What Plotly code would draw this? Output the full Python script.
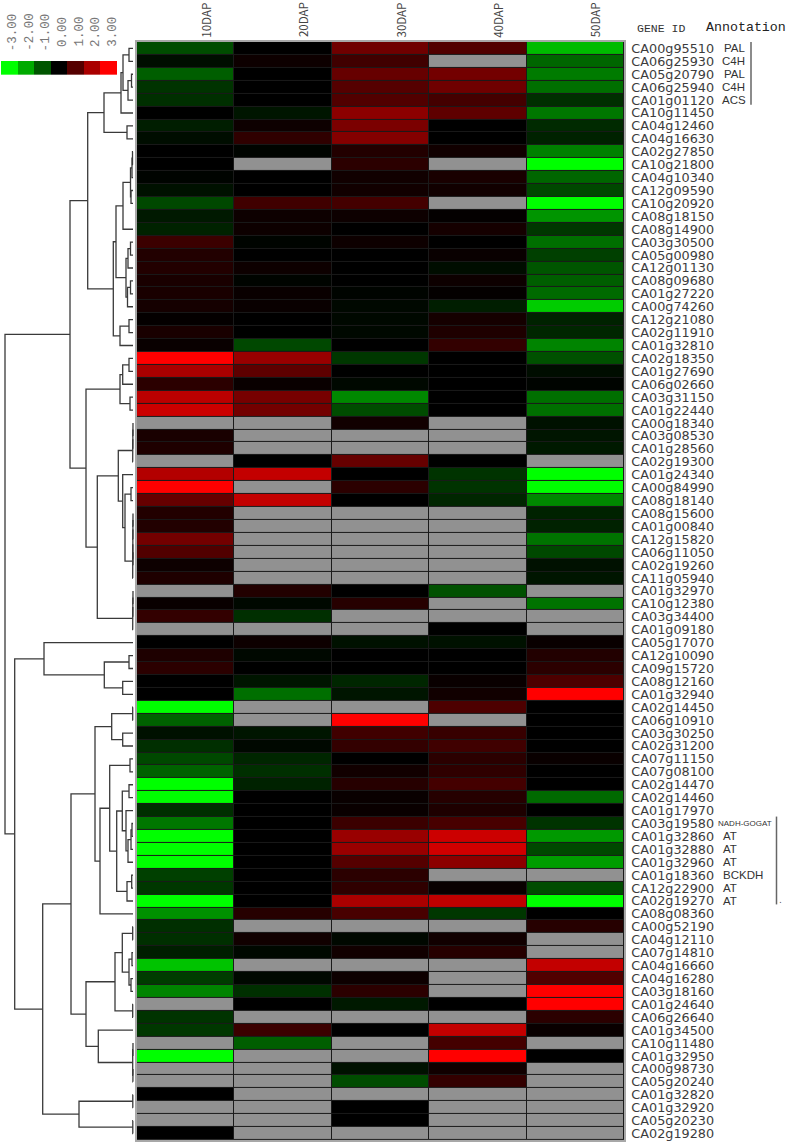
import plotly.graph_objects as go

N = None
days = ["10DAP", "20DAP", "30DAP", "40DAP", "50DAP"]
genes = """CA00g95510 CA06g25930 CA05g20790 CA06g25940 CA01g01120 CA10g11450 CA04g12460 CA04g16630 CA02g27850 CA10g21800
CA04g10340 CA12g09590 CA10g20920 CA08g18150 CA08g14900 CA03g30500 CA05g00980 CA12g01130 CA08g09680 CA01g27220
CA00g74260 CA12g21080 CA02g11910 CA01g32810 CA02g18350 CA01g27690 CA06g02660 CA03g31150 CA01g22440 CA00g18340
CA03g08530 CA01g28560 CA02g19300 CA01g24340 CA00g84990 CA08g18140 CA08g15600 CA01g00840 CA12g15820 CA06g11050
CA02g19260 CA11g05940 CA01g32970 CA10g12380 CA03g34400 CA01g09180 CA05g17070 CA12g10090 CA09g15720 CA08g12160
CA01g32940 CA02g14450 CA06g10910 CA03g30250 CA02g31200 CA07g11150 CA07g08100 CA02g14470 CA02g14460 CA01g17970
CA03g19580 CA01g32860 CA01g32880 CA01g32960 CA01g18360 CA12g22900 CA02g19270 CA08g08360 CA00g52190 CA04g12110
CA07g14810 CA04g16660 CA04g16280 CA03g18160 CA01g24640 CA06g26640 CA01g34500 CA10g11480 CA01g32950 CA00g98730
CA05g20240 CA01g32820 CA01g32920 CA05g20230 CA02g19280""".split()

expression = [
    [-0.9, 0, 1.3, 0.95, -2.2], [-0.15, 0.15, 0.75, N, -1.2], [-1.1, 0, 1.2, 1.35, -1.45],
    [-0.6, 0, 1.0, 1.3, -1.3], [-0.55, 0, 0.95, 0.8, -0.55], [0, -0.25, 1.65, 1.1, -1.4],
    [-0.35, 0.15, 1.45, 0, -0.5], [-0.15, 0.55, 1.55, 0, -0.4], [0, -0.05, 0.4, 0.2, -1.5],
    [0, N, 0.5, N, -3], [-0.05, 0, 0.2, 0.3, -1.2], [-0.2, 0, 0.2, 0.2, -0.85],
    [-0.85, 0.75, 0.8, N, -3], [-0.3, 0.15, 0.15, 0.05, -1.75], [-0.4, 0.15, 0, 0.25, -0.65],
    [0.7, -0.05, 0.15, 0, -1.3], [0.4, 0, 0, 0.1, -0.75], [0.4, 0.15, 0, -0.15, -1.0],
    [0.3, -0.05, 0, 0.15, -1.1], [0.3, 0.1, -0.05, 0.05, -1.25], [0.25, 0.1, -0.1, -0.35, -2.4],
    [0.05, 0, -0.1, 0.25, -0.4], [0.3, 0, -0.1, 0.35, -0.45], [0.1, -0.85, 0, 0.6, -1.55],
    [3, 1.8, -0.65, 0, -0.95], [2.0, 1.1, 0, 0, -0.15], [0.5, 0.1, -0.1, 0, -0.05],
    [2.2, 1.4, -1.6, 0, -1.3], [2.4, 1.35, -0.9, 0, -1.3], [N, N, 0.2, N, -0.2],
    [0.3, N, N, N, -0.25], [0.35, N, N, N, -0.3], [N, 0, 1.2, 0, N],
    [2.1, 2.3, 0, -0.6, -3], [3, N, 0.5, -0.6, -3], [1.2, 2.3, 0, -0.45, -1.6],
    [0.4, N, N, N, -0.4], [0.4, N, N, N, -0.4], [1.35, N, N, N, -1.35],
    [0.95, N, N, N, -0.85], [0.15, N, N, N, -0.2], [0.35, N, N, N, -0.25],
    [N, 0.4, 0, -0.95, N], [0.1, -0.1, 0.45, N, -1.35], [0.6, -0.55, N, N, N],
    [N, N, N, 0, N], [0, 0.15, -0.2, -0.2, 0.1], [0.35, -0.1, 0, 0, 0.4],
    [0.5, 0, 0, 0, 0.5], [0, -0.25, -0.45, 0.1, 0.9], [0, -1.3, -0.25, 0.2, 3],
    [-3, N, N, 0.9, 0], [-1.15, N, 3, N, 0], [-0.2, -0.25, 0.75, 0.65, 0],
    [-0.55, -0.1, 0.6, 0.75, 0], [-0.85, -0.45, 0, 0.5, 0.1], [-1.15, -0.55, 0.2, 0.55, 0],
    [-3, -0.4, 0.45, 0.8, 0], [-3, 0, 0.1, 0.45, -1.25], [-0.55, 0, 0.1, 0.35, 0],
    [-1.4, 0, 0.7, 0.85, -0.6], [-3, 0, 1.8, 2.4, -1.8], [-3, 0, 1.8, 2.45, -0.85],
    [-3, 0, 1.0, 1.65, -1.85], [-0.75, 0, 0.5, N, N], [-0.65, 0, 0.55, 0.1, -0.9],
    [-3, 0, 2.0, 2.25, -3], [-1.7, 0.45, 0.85, -0.65, 0], [-0.55, N, N, N, 0.45],
    [-0.55, 0.2, -0.1, 0.2, N], [-0.35, -0.1, 0.2, 0.45, N], [-2.3, N, N, N, 2.3],
    [-0.7, -0.1, 0.15, N, 0.95], [-1.55, -0.55, 0.5, N, 3], [N, 0, -0.3, 0, 3],
    [-0.6, N, N, N, 0.5], [-0.65, 0.7, 0, 2.3, 0.1], [N, -1.1, N, 0.8, N],
    [-3, N, N, 3, 0], [N, N, -0.2, 0.2, N], [N, N, -0.9, 0.6, N],
    [0, N, N, N, N], [N, N, 0, N, N], [N, N, 0, N, N], [0, N, N, N, N],
]

legend_values = [-3, -2, -1, 0, 1, 2, 3]
annotations_by_gene = [
    ("CA00g95510", "PAL"), ("CA06g25930", "C4H"), ("CA05g20790", "PAL"), ("CA06g25940", "C4H"),
    ("CA01g01120", "ACS"), ("CA03g19580", "NADH-GOGAT"), ("CA01g32860", "AT"), ("CA01g32880", "AT"),
    ("CA01g32960", "AT"), ("CA01g18360", "BCKDH"), ("CA12g22900", "AT"), ("CA02g19270", "AT"),
]


def m(height, a, b):
    return (height, a, b)


# Dendrogram: merges of rows (1-based) with their distance
upper_a = m(29, m(12, m(10, m(4, 1, 2), m(5, m(1.5, 3, 4), 5)), 6), m(6, 7, 8))
upper_b = m(19.7,
            m(17, m(10, m(2.5, m(1, m(0.5, 9, 10), 11), m(2, 12, 13)), 15),
              m(7, m(5, m(2.5, 16, 17), 18), m(5.5, m(2.5, 19, 20), 21))),
            m(13, m(4, 22, 23), 24))
upper_c1 = m(13, m(10.3, m(4, 25, 26), 27), m(3, 28, 29))
flat_30 = m(0.3, m(0.2, m(0.1, 30, 31), 32), 33)
flat_37 = m(0.3, m(0.2, m(0.1, m(0.05, 37, 38), 39), m(0.05, 40, 41)), 42)
upper_c2 = m(35.7,
             m(14.7, flat_30, m(10.3, 34, m(8, m(2, 35, 36), flat_37))),
             m(0.3, m(0.2, m(0.1, 43, 44), 45), 46))
upper = m(63, m(45.3, upper_a, upper_b), m(47, upper_c1, upper_c2))

lower_d1 = m(89, 47, m(28.7, m(4, 48, 49), m(10.3, 50, 51)))
lower_f = m(38,
            m(21.3, m(0.3, 52, 53), m(10.3, 54, 55)),
            m(33, m(23.3, m(3, 56, 57),
                    m(16.3, m(10.7, m(4, 58, 59),
                              m(7, 60, m(5, m(2, m(1, 61, 62), 63), 64))),
                      m(6, m(1.3, 65, 66), 67))),
              68))
lower_g = m(47,
            m(18, m(10.7, m(0.3, 69, 70), m(4, m(1, 71, 72), m(2, 73, 74))), m(0.3, 75, 76)),
            m(34.7, 77, m(0.3, m(0.1, 78, 79), m(0.1, 80, 81))))
lower = m(118.3, m(90.3, m(62, lower_f, lower_g), m(54, m(0.2, 82, 83), m(0.2, 84, 85))), lower_d1)
root = m(128, upper, lower)

W, H = 787, 1144
HEAT_L, HEAT_R, HEAT_T, HEAT_B = 137, 624, 41, 1141
rows = list(range(1, len(genes) + 1))
cols = list(range(len(days)))

scale = [[(v + 3) / 6, c] for v, c in [(-3, "#00ff00"), (0, "#000000"), (3, "#ff0000")]]
missing_mask = [[1 if v is None else None for v in row] for row in expression]
base = [[1 for _ in row] for row in expression]


def px(x):
    return x / W


def py(y):
    return 1 - y / H


xs, ys = [], []


def draw(node):
    if isinstance(node, int):
        return 0, node
    d, a, b = node
    da, ya = draw(a)
    db, yb = draw(b)
    xs.extend([da, d, d, db, None])
    ys.extend([ya, ya, yb, yb, None])
    return d, (ya + yb) / 2


root_d, root_y = draw(root)

fig = go.Figure()
fig.add_trace(go.Heatmap(x=cols, y=rows, z=base, colorscale=[[0, "#1a1a1a"], [1, "#1a1a1a"]],
                         showscale=False, hoverinfo="skip"))
fig.add_trace(go.Heatmap(x=cols, y=rows, z=missing_mask, colorscale=[[0, "#919191"], [1, "#919191"]],
                         showscale=False, xgap=1, ygap=1, hoverinfo="skip"))
fig.add_trace(go.Heatmap(x=cols, y=rows, z=expression, zmin=-3, zmax=3, colorscale=scale,
                         showscale=False, xgap=1, ygap=1))
fig.add_trace(go.Scatter(x=xs, y=ys, xaxis="x2", yaxis="y", mode="lines",
                         line=dict(color="#3a3a3a", width=1.3), hoverinfo="skip", showlegend=False))
fig.add_trace(go.Heatmap(x=legend_values, y=[0], z=[legend_values], zmin=-3, zmax=3, colorscale=scale,
                         showscale=False, xaxis="x3", yaxis="y3"))

axis_line = dict(showline=True, linecolor="#a8a8a8", linewidth=1.5, mirror=True)
gene_font = dict(family="DejaVu Sans", size=12.8, color="#3c3c3c")

annotations = []
for i, day in zip(cols, days):
    annotations.append(dict(x=i, y=py(19), xref="x", yref="paper", text=day, textangle=-90, showarrow=False,
                            xanchor="center", yanchor="middle", xshift=20,
                            font=dict(family="Noto Sans CJK SC", size=11.5, color="#444444")))
for v in legend_values:
    annotations.append(dict(x=v, y=py(31), xref="x3", yref="paper", text=f"{v:.2f}", textangle=-90,
                            showarrow=False, xanchor="center", yanchor="middle", xshift=4,
                            font=dict(family="Liberation Mono", size=12.5, color="#777777")))
annotations.append(dict(x=px(635), y=py(28), xref="paper", yref="paper", text="GENE ID", xanchor="left",
                        yanchor="middle", showarrow=False,
                        font=dict(family="Liberation Mono", size=11.5, color="#333333")))
annotations.append(dict(x=px(704), y=py(27), xref="paper", yref="paper", text="Annotation", xanchor="left",
                        yanchor="middle", showarrow=False,
                        font=dict(family="Liberation Mono", size=13.3, color="#222222")))
for gene, label in annotations_by_gene:
    small = label == "NADH-GOGAT"
    left = {"PAL": 722, "C4H": 720, "ACS": 720, "NADH-GOGAT": 716, "AT": 721, "BCKDH": 721}[label]
    annotations.append(dict(x=px(left), y=rows[genes.index(gene)], xref="paper", yref="y", text=label,
                            xanchor="left", yanchor="middle", showarrow=False,
                            font=dict(family="Liberation Sans", size=8 if small else 11.5, color="#333333")))
annotations.append(dict(x=px(777), y=py(901), xref="paper", yref="paper", text=".", xanchor="left",
                        yanchor="middle", showarrow=False,
                        font=dict(family="DejaVu Sans", size=9, color="#555555")))

shapes = [
    dict(type="line", xref="paper", yref="paper", x0=px(751), x1=px(751), y0=py(41), y1=py(104),
         line=dict(color="#666666", width=1.5)),
    dict(type="line", xref="paper", yref="paper", x0=px(776.5), x1=px(776.5), y0=py(817), y1=py(905),
         line=dict(color="#666666", width=1.5)),
]

fig.update_layout(
    width=W, height=H, margin=dict(l=0, r=0, t=0, b=0), paper_bgcolor="white", plot_bgcolor="white",
    showlegend=False, annotations=annotations, shapes=shapes,
    xaxis=dict(domain=[px(HEAT_L), px(HEAT_R)], range=[-0.5, 4.5], showticklabels=False, ticks="",
               showgrid=False, zeroline=False, **axis_line),
    yaxis=dict(domain=[py(HEAT_B), py(HEAT_T)], range=[85.5, 0.5], side="right", tickmode="array", tickvals=rows,
               ticktext=genes, tickfont=gene_font, ticks="outside", ticklen=3, tickcolor="rgba(0,0,0,0)",
               showgrid=False, zeroline=False, **axis_line),
    xaxis2=dict(domain=[0, px(HEAT_L)], range=[133, -4], visible=False, anchor="y", showgrid=False),
    xaxis3=dict(domain=[px(1), px(117)], range=[-3.5, 3.5], visible=False, anchor="y3"),
    yaxis3=dict(domain=[py(74), py(60)], range=[-0.5, 0.5], visible=False, anchor="x3"),
    font=dict(family="DejaVu Sans"),
)

fig.write_html("out.html", config={"displayModeBar": False},
               post_script="document.body.style.margin='0';document.documentElement.style.overflow='hidden';")
